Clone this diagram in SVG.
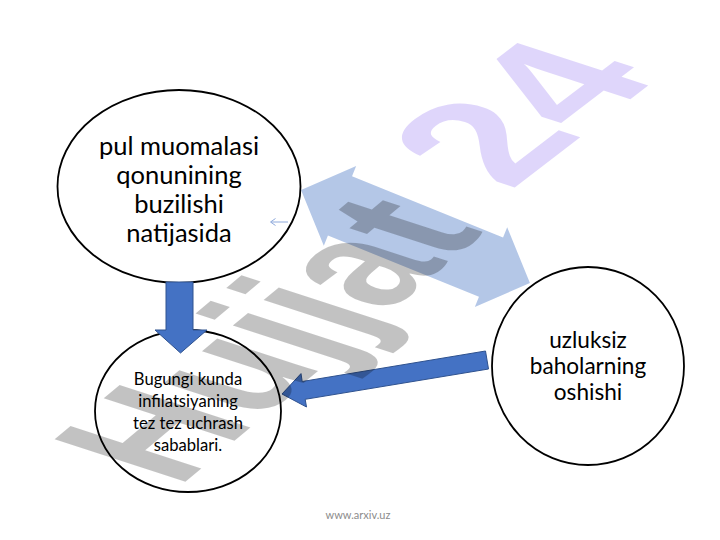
<svg xmlns="http://www.w3.org/2000/svg" width="720" height="540" viewBox="0 0 720 540">
<style>
.node{fill:#ffffff;stroke:#000000;stroke-width:1.8}
.lbl{font-family:Lato,"Liberation Sans",sans-serif;fill:#000000;text-anchor:middle}
.arr{fill:#4472C4;stroke:#2F528F;stroke-width:1}
.wm{font-family:"Liberation Sans",Arial,sans-serif;font-weight:bold;font-size:200px}
</style>
<rect width="720" height="540" fill="#ffffff"/>
<g id="node-pul">
<ellipse class="node" cx="179" cy="186.5" rx="121.5" ry="96.5"/>
<text class="lbl" font-size="25.5"><tspan x="179" y="155">pul muomalasi</tspan><tspan x="179" y="184">qonunining</tspan><tspan x="179" y="213">buzilishi</tspan><tspan x="179" y="242">natijasida</tspan></text>
</g>
<g id="node-sabab">
<ellipse class="node" cx="188" cy="411" rx="93" ry="81"/>
<text class="lbl" font-size="16.6"><tspan x="188" y="385">Bugungi kunda</tspan><tspan x="188" y="407">infilatsiyaning</tspan><tspan x="188" y="429">tez tez uchrash</tspan><tspan x="188" y="451">sabablari.</tspan></text>
</g>
<g id="node-baho">
<ellipse class="node" cx="588" cy="366" rx="96" ry="99"/>
<text class="lbl" font-size="22.6"><tspan x="588" y="348">uzluksiz</tspan><tspan x="588" y="374">baholarning</tspan><tspan x="588" y="400">oshishi</tspan></text>
</g>
<g id="connectors">
<path class="arr" d="M166,282 L193,282 L193,330 L207,330 L180.5,353 L155,330 L166,330 Z"/>
<path class="arr" d="M485.5,351 L488.5,369 L305.2,399.3 L306.5,407 L282,394 L301,373.6 L302.2,381.5 Z"/>
<path fill="#4472C4" fill-opacity="0.4" transform="translate(415.5 236.5) rotate(22.1)" d="M-123.5,0 L-81.5,-43 L-81.5,-32 L81.5,-32 L81.5,-43 L123.5,0 L81.5,43 L81.5,32 L-81.5,32 L-81.5,43 Z"/>
<g fill="none" stroke="#8FAADC" stroke-width="1"><line x1="288" y1="222" x2="271" y2="222"/><polyline points="275.5,218.5 270.5,222 275.5,225.5"/></g>
</g>
<g id="watermark">
<text class="wm" fill="#000000" fill-opacity="0.24" transform="matrix(0.553 -0.462 0.951 0.309 178 488)">Hujjat</text>
<text class="wm" fill="#7F5AF0" fill-opacity="0.25" transform="matrix(0.68 -0.52 0.951 0.309 510 191)">24</text>
</g>
<text x="358" y="519" font-family="Lato,'Liberation Sans',sans-serif" font-size="11" fill="#8C8C8C" text-anchor="middle">www.arxiv.uz</text>
</svg>
